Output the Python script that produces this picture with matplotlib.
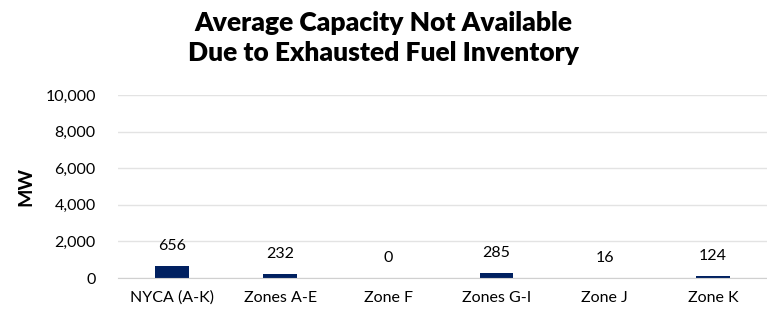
import matplotlib.pyplot as plt
from matplotlib.ticker import FuncFormatter

categories = ['NYCA (A-K)', 'Zones A-E', 'Zone F', 'Zones G-I', 'Zone J', 'Zone K']
capacity_mw = [656, 232, 0, 285, 16, 124]
y_ticks = [0, 2000, 4000, 6000, 8000, 10000]

plt.rcParams['font.family'] = ['Lato', 'DejaVu Sans']

fig = plt.figure(figsize=(7.67, 3.14), dpi=100)
ax = fig.add_axes([118 / 767, 36 / 314, 649 / 767, 183 / 314])

x = range(len(categories))
bars = ax.bar(x, capacity_mw, width=0.31, color='#002060', zorder=3)

for xi, v in zip(x, capacity_mw):
    ax.annotate(f'{v:,}', (xi, v), xytext=(0, 9), textcoords='offset points',
                ha='center', va='bottom', fontsize=11.5, color='#000000')

ax.set_xlim(-0.5, len(categories) - 0.5)
ax.set_ylim(0, 10000)
ax.set_yticks(y_ticks)
ax.yaxis.set_major_formatter(FuncFormatter(lambda v, p: f'{int(v):,}'))
ax.set_xticks(list(x))
ax.set_xticklabels(categories)
ax.tick_params(axis='both', length=0, labelsize=11.5, colors='#000000')
ax.tick_params(axis='x', pad=9)
ax.tick_params(axis='y', pad=16)

ax.grid(axis='y', color='#e3e3e3', linewidth=1, zorder=0)
for s in ['top', 'right', 'left']:
    ax.spines[s].set_visible(False)
ax.spines['bottom'].set_color('#d0d0d0')
ax.spines['bottom'].set_zorder(4)

ax.set_ylabel('MW', fontsize=14, fontweight='bold', labelpad=8)

fig.text(0.5, 0.878, 'Average Capacity Not Available\nDue to Exhausted Fuel Inventory',
         ha='center', va='center', fontsize=19, fontweight='heavy', linespacing=1.3)

fig.savefig('out.png', dpi=100)
